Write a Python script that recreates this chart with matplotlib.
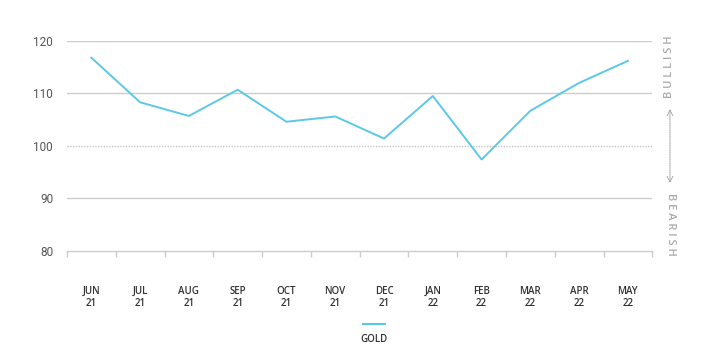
import numpy as np
import matplotlib.pyplot as plt
from matplotlib.lines import Line2D

months = ["JUN\n21", "JUL\n21", "AUG\n21", "SEP\n21", "OCT\n21", "NOV\n21",
          "DEC\n21", "JAN\n22", "FEB\n22", "MAR\n22", "APR\n22", "MAY\n22"]
gold = [116.8, 108.3, 105.7, 110.7, 104.6, 105.6, 101.4, 109.5, 97.4, 106.7, 112.0, 116.2]
yticks = [80, 90, 100, 110, 120]

line_color = "#5cc8e6"
grid_color = "#cccccc"
text_color = "#555555"

fig = plt.figure(figsize=(7.2, 3.62), dpi=100)
ax = fig.add_axes([0.093, 0.307, 0.813, 0.580])

x = np.arange(len(months))
ax.plot(x, gold, color=line_color, linewidth=1.4, zorder=3)

# gridlines
for v in yticks[1:]:
    if v == 100:
        ax.axhline(v, color="#c8c8c8", linewidth=1.0, linestyle=(0, (1, 1)), zorder=1)
    else:
        ax.axhline(v, color=grid_color, linewidth=1.0, zorder=1)

ax.set_xlim(-0.5, len(months) - 0.5)
ax.set_ylim(80, 120)
ax.set_yticks(yticks)
ax.set_yticklabels([str(v) for v in yticks], fontsize=8.5, color=text_color,
                   fontfamily="Roboto")
ax.tick_params(axis="y", length=0, pad=10)

ax.set_xticks(x)
ax.set_xticklabels(months, fontsize=7, color="#333333", fontfamily="Open Sans",
                   fontweight="semibold", linespacing=1.15)
ax.tick_params(axis="x", which="major", length=0, pad=25)
ax.set_xticks(np.arange(-0.5, len(months)), minor=True)
ax.tick_params(axis="x", which="minor", length=4, direction="out", color=grid_color, width=1)

for s in ["top", "right", "left"]:
    ax.spines[s].set_visible(False)
ax.spines["bottom"].set_color(grid_color)
ax.spines["bottom"].set_linewidth(1.0)

# bullish / bearish annotations on the right
side_x = 670 / 720
fig.text(side_x, 1 - 67 / 362, "B U L L I S H", rotation=90, ha="center", va="center",
         fontsize=8, color="#aaaaaa", fontfamily="Open Sans", fontweight="semibold")
fig.text(side_x, 1 - 224 / 362, "B E A R I S H", rotation=-90, ha="center", va="center",
         fontsize=8, color="#aaaaaa", fontfamily="Open Sans", fontweight="semibold")
fig.add_artist(plt.Annotation("", xy=(side_x, 1 - 106 / 362), xytext=(side_x, 1 - 186 / 362),
                              xycoords="figure fraction", textcoords="figure fraction",
                              arrowprops=dict(arrowstyle="<->", color="#aaaaaa", lw=0.8,
                                              linestyle=(0, (1, 1)))))

# legend
fig.add_artist(Line2D([363 / 720, 385 / 720], [1 - 324 / 362, 1 - 324 / 362],
                      color=line_color, linewidth=1.5))
fig.text(374 / 720, 1 - 339 / 362, "GOLD", ha="center", va="center", fontsize=7,
         color="#333333", fontfamily="Open Sans", fontweight="semibold")

fig.savefig("out.png", dpi=100)
